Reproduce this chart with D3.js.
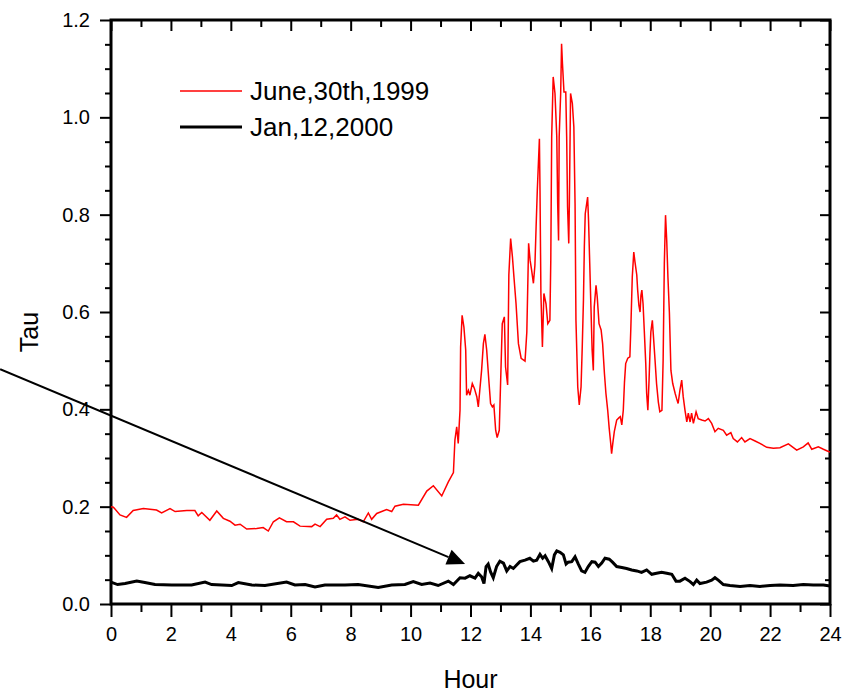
<!DOCTYPE html>
<html>
<head>
<meta charset="utf-8">
<script src="https://cdn.jsdelivr.net/npm/d3@7"></script>
<style>
	body { margin: 0; background: #fff; }
	text { font-family: Arial, "Liberation Sans", sans-serif; }
</style>
</head>
<body>
<div id="chart"></div>
<script>
// June 30th 1999 (red)
var juneHours = [0.00,0.08,0.30,0.52,0.74,1.08,1.52,1.69,1.97,2.14,2.53,2.80,2.91,3.03,3.30,3.53,3.75,3.97,4.14,4.31,4.53,4.86,5.08,5.25,5.42,5.62,5.86,6.09,6.31,6.70,6.81,6.98,7.20,7.42,7.53,7.64,7.81,7.98,8.25,8.42,8.59,8.70,8.87,9.20,9.37,9.48,9.76,10.26,10.54,10.76,11.04,11.26,11.43,11.48,11.54,11.59,11.65,11.67,11.72,11.78,11.84,11.87,11.93,11.98,12.06,12.13,12.21,12.26,12.32,12.37,12.43,12.48,12.54,12.62,12.67,12.73,12.78,12.84,12.89,12.96,13.01,13.06,13.13,13.17,13.24,13.28,13.34,13.40,13.45,13.52,13.60,13.69,13.82,13.88,13.92,13.94,13.99,14.04,14.10,14.15,14.19,14.23,14.30,14.32,14.35,14.40,14.45,14.52,14.58,14.65,14.68,14.71,14.76,14.82,14.88,14.91,14.94,14.96,15.01,15.04,15.07,15.12,15.18,15.21,15.24,15.28,15.30,15.34,15.40,15.45,15.49,15.52,15.58,15.63,15.69,15.73,15.77,15.80,15.83,15.88,15.91,15.94,15.98,16.02,16.06,16.10,16.13,16.19,16.23,16.29,16.36,16.41,16.47,16.52,16.58,16.63,16.68,16.71,16.75,16.80,16.88,16.96,17.00,17.05,17.10,17.14,17.18,17.25,17.32,17.35,17.40,17.45,17.49,17.55,17.58,17.62,17.66,17.69,17.72,17.76,17.80,17.85,17.88,17.92,17.96,17.99,18.02,18.07,18.10,18.16,18.21,18.27,18.32,18.39,18.43,18.47,18.51,18.55,18.59,18.64,18.69,18.75,18.83,18.88,18.93,18.99,19.05,19.10,19.16,19.22,19.27,19.33,19.38,19.44,19.53,19.60,19.72,19.83,19.94,20.05,20.16,20.27,20.44,20.55,20.69,20.77,20.91,21.05,21.16,21.33,21.50,21.66,21.89,22.11,22.33,22.61,22.89,23.11,23.27,23.39,23.61,23.78,23.89,24.00]
var juneTau = [0.200,0.199,0.183,0.178,0.192,0.196,0.193,0.187,0.196,0.190,0.192,0.192,0.181,0.188,0.172,0.191,0.176,0.170,0.162,0.164,0.154,0.155,0.157,0.150,0.169,0.177,0.169,0.169,0.160,0.159,0.164,0.159,0.174,0.176,0.183,0.174,0.179,0.172,0.174,0.169,0.187,0.174,0.186,0.194,0.190,0.201,0.205,0.203,0.232,0.243,0.222,0.251,0.270,0.337,0.364,0.330,0.398,0.528,0.593,0.569,0.522,0.429,0.439,0.429,0.453,0.443,0.426,0.405,0.446,0.480,0.535,0.554,0.522,0.453,0.412,0.405,0.409,0.357,0.342,0.357,0.467,0.576,0.590,0.487,0.450,0.676,0.751,0.713,0.672,0.617,0.535,0.505,0.499,0.559,0.679,0.741,0.706,0.686,0.659,0.696,0.775,0.850,0.956,0.850,0.638,0.528,0.638,0.617,0.576,0.583,0.706,0.960,1.083,1.049,0.960,0.823,0.747,0.960,1.049,1.151,1.110,1.052,1.052,0.960,0.816,0.741,0.823,1.049,1.028,0.980,0.823,0.583,0.446,0.409,0.446,0.528,0.624,0.734,0.802,0.823,0.836,0.789,0.700,0.610,0.522,0.480,0.610,0.655,0.631,0.576,0.563,0.535,0.474,0.433,0.398,0.361,0.330,0.309,0.330,0.354,0.378,0.383,0.385,0.368,0.398,0.456,0.494,0.505,0.508,0.563,0.672,0.723,0.703,0.676,0.645,0.614,0.600,0.634,0.645,0.617,0.563,0.494,0.433,0.398,0.460,0.515,0.559,0.583,0.556,0.501,0.453,0.415,0.395,0.398,0.501,0.700,0.799,0.747,0.672,0.597,0.480,0.453,0.433,0.422,0.412,0.439,0.460,0.426,0.398,0.374,0.392,0.374,0.392,0.371,0.395,0.381,0.378,0.376,0.381,0.371,0.354,0.361,0.357,0.347,0.352,0.340,0.333,0.342,0.333,0.340,0.335,0.330,0.322,0.320,0.321,0.329,0.316,0.323,0.331,0.318,0.323,0.318,0.315,0.312]

// Jan 12 2000 (black)
var janHours = [0.00,0.22,0.47,0.86,1.13,1.47,2.03,2.69,3.14,3.36,4.03,4.25,4.70,5.14,5.86,6.14,6.48,6.81,7.14,7.81,8.25,8.92,9.37,9.81,10.09,10.37,10.65,10.92,11.26,11.43,11.65,11.82,11.98,12.15,12.26,12.37,12.45,12.52,12.59,12.67,12.76,12.87,12.98,13.10,13.21,13.32,13.43,13.54,13.65,13.82,13.98,14.10,14.21,14.32,14.41,14.49,14.60,14.71,14.80,14.88,14.99,15.10,15.19,15.26,15.38,15.49,15.60,15.71,15.82,15.93,16.05,16.16,16.27,16.38,16.49,16.63,16.74,16.88,17.05,17.21,17.38,17.55,17.71,17.88,18.05,18.21,18.38,18.55,18.72,18.86,18.99,19.16,19.33,19.44,19.55,19.66,19.88,20.05,20.16,20.27,20.44,20.66,21.00,21.33,21.66,22.00,22.33,22.77,23.11,23.44,23.78,24.00]
var janTau = [0.045,0.040,0.042,0.047,0.044,0.040,0.039,0.039,0.045,0.040,0.038,0.044,0.039,0.038,0.045,0.039,0.040,0.035,0.039,0.039,0.040,0.034,0.039,0.040,0.046,0.040,0.043,0.038,0.047,0.040,0.054,0.053,0.058,0.053,0.063,0.056,0.042,0.077,0.082,0.066,0.054,0.077,0.088,0.084,0.068,0.077,0.073,0.080,0.087,0.090,0.094,0.088,0.090,0.102,0.094,0.099,0.087,0.073,0.101,0.109,0.106,0.101,0.082,0.086,0.087,0.097,0.082,0.068,0.065,0.077,0.087,0.086,0.077,0.084,0.094,0.092,0.086,0.077,0.075,0.073,0.070,0.068,0.065,0.070,0.061,0.063,0.065,0.063,0.061,0.047,0.047,0.053,0.046,0.040,0.049,0.042,0.045,0.049,0.054,0.049,0.040,0.038,0.036,0.038,0.036,0.038,0.039,0.038,0.040,0.039,0.039,0.037]

var seriesNames = ["June,30th,1999", "Jan,12,2000"]
var seriesColours = ["#ff0000", "#000000"]

var xTicks = [0,2,4,6,8,10,12,14,16,18,20,22,24]
var yTicks = [0.0,0.2,0.4,0.6,0.8,1.0,1.2]

// annotation arrow, in data units (starts off the left of the plot)
var arrowFrom = [-3.70, 0.4825]
var arrowTo = [11.82, 0.082]

var fullWidth = 859, fullHeight = 694
var margin = {top: 20, right: 29, bottom: 90, left: 111}

var svg = d3.select("#chart").append("svg")
	.attr("width", fullWidth)
	.attr("height", fullHeight)

var x = d3.scaleLinear().domain([0, 24]).range([margin.left, fullWidth - margin.right])
var y = d3.scaleLinear().domain([0, 1.2]).range([fullHeight - margin.bottom, margin.top])

var minorX = d3.range(1, 24, 2)
var minorY = d3.range(0, 1.2001, 0.05).filter(v => Math.abs(v*5 - Math.round(v*5)) > 1e-6)

function styleAxis(g){
	g.select(".domain").remove()
	g.selectAll("line").attr("stroke", "#000").attr("stroke-width", 2)
	g.selectAll("text").attr("fill", "#000").style("font-size", "20px")
}

// bottom
svg.append("g").attr("transform", `translate(0,${y(0)})`)
	.call(d3.axisBottom(x).tickValues(xTicks).tickSize(13).tickPadding(10).tickFormat(d3.format("d")))
	.call(styleAxis)
svg.append("g").attr("transform", `translate(0,${y(0)})`)
	.call(d3.axisBottom(x).tickValues(minorX).tickSize(8).tickFormat(""))
	.call(styleAxis)
// top (inward)
svg.append("g").attr("transform", `translate(0,${y(1.2)})`)
	.call(d3.axisTop(x).tickValues(xTicks).tickSize(-11).tickFormat(""))
	.call(styleAxis)
svg.append("g").attr("transform", `translate(0,${y(1.2)})`)
	.call(d3.axisTop(x).tickValues(minorX).tickSize(-7).tickFormat(""))
	.call(styleAxis)
// left
svg.append("g").attr("transform", `translate(${x(0)},0)`)
	.call(d3.axisLeft(y).tickValues(yTicks).tickSize(11).tickPadding(10).tickFormat(d3.format(".1f")))
	.call(styleAxis)
svg.append("g").attr("transform", `translate(${x(0)},0)`)
	.call(d3.axisLeft(y).tickValues(minorY).tickSize(6).tickFormat(""))
	.call(styleAxis)
// right (inward)
svg.append("g").attr("transform", `translate(${x(24)},0)`)
	.call(d3.axisRight(y).tickValues(yTicks).tickSize(-10).tickFormat(""))
	.call(styleAxis)
svg.append("g").attr("transform", `translate(${x(24)},0)`)
	.call(d3.axisRight(y).tickValues(minorY).tickSize(-5).tickFormat(""))
	.call(styleAxis)

// frame
svg.append("rect")
	.attr("x", x(0)).attr("y", y(1.2))
	.attr("width", x(24) - x(0)).attr("height", y(0) - y(1.2))
	.attr("fill", "none").attr("stroke", "#000").attr("stroke-width", 3)

var line = d3.line().x(d => x(d[0])).y(d => y(d[1]))

svg.append("path")
	.datum(janHours.map((h, i) => [h, janTau[i]]))
	.attr("d", line)
	.attr("fill", "none").attr("stroke", seriesColours[1]).attr("stroke-width", 3)

svg.append("path")
	.datum(juneHours.map((h, i) => [h, juneTau[i]]))
	.attr("d", line)
	.attr("fill", "none").attr("stroke", seriesColours[0]).attr("stroke-width", 1.5)

// arrow
var ax1 = x(arrowFrom[0]), ay1 = y(arrowFrom[1]), ax2 = x(arrowTo[0]), ay2 = y(arrowTo[1])
var ang = Math.atan2(ay2 - ay1, ax2 - ax1)
var headLen = 18, headHalf = 8
var bx = ax2 - headLen*Math.cos(ang), by = ay2 - headLen*Math.sin(ang)
svg.append("line")
	.attr("x1", ax1).attr("y1", ay1).attr("x2", bx).attr("y2", by)
	.attr("stroke", "#000").attr("stroke-width", 2)
svg.append("path")
	.attr("d", `M${ax2},${ay2}L${bx - headHalf*Math.sin(ang)},${by + headHalf*Math.cos(ang)}L${bx + headHalf*Math.sin(ang)},${by - headHalf*Math.cos(ang)}Z`)
	.attr("fill", "#000")

// legend
var legend = svg.append("g").attr("transform", "translate(180,91)")
seriesNames.forEach((name, i) => {
	var g = legend.append("g").attr("transform", `translate(0,${i*36})`)
	g.append("line").attr("x1", 0).attr("x2", 62).attr("y1", 0).attr("y2", 0)
		.attr("stroke", seriesColours[i]).attr("stroke-width", i == 0 ? 1.5 : 3)
	g.append("text").attr("x", 70).attr("y", 9)
		.style("font-size", "26px").attr("fill", "#000").text(name)
})

// axis titles
svg.append("text")
	.attr("x", (x(0) + x(24)) / 2).attr("y", 688)
	.attr("text-anchor", "middle").style("font-size", "25px")
	.text("Hour")
svg.append("text")
	.attr("transform", "translate(38,332) rotate(-90)")
	.attr("text-anchor", "middle").style("font-size", "25px")
	.text("Tau")
</script>
</body>
</html>
